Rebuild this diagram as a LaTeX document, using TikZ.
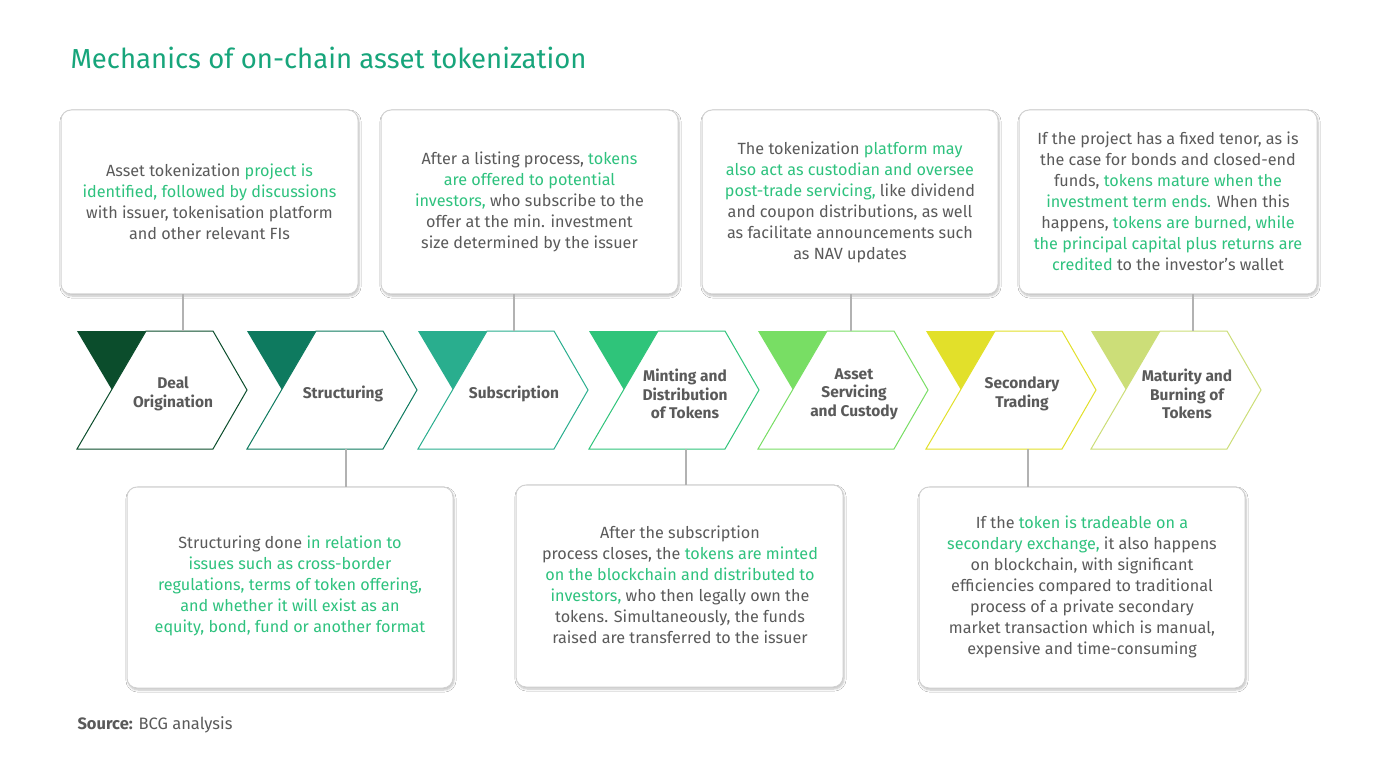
\documentclass[tikz,border=0pt]{standalone}
\usepackage{fontspec}
\setmainfont{Fira Sans}
\usetikzlibrary{shadows.blur}
\definecolor{txt}{HTML}{5A5A5A}
\definecolor{grn}{HTML}{2EC27E}
\definecolor{ttl}{HTML}{17A57B}
\definecolor{cA}{HTML}{0B4D2C}
\definecolor{cB}{HTML}{0E7A5F}
\definecolor{cC}{HTML}{29AE8E}
\definecolor{cD}{HTML}{2FC47A}
\definecolor{cE}{HTML}{78DE64}
\definecolor{cF}{HTML}{E2E02A}
\definecolor{cG}{HTML}{CCDE78}
\newcommand{\g}[1]{\textcolor{grn}{#1}}
\tikzset{
  infobox/.style={draw=black!18, line width=1pt, rounded corners=10pt, fill=white,
    blur shadow={shadow xshift=1pt, shadow yshift=-2pt, shadow blur steps=6, shadow opacity=25}},
  infotext/.style={align=center, text=txt, font=\fontsize{16.2}{21}\selectfont},
  steplabel/.style={align=center, text=txt, font=\bfseries\fontsize{15.5}{18.5}\selectfont},
  link/.style={draw=black!30, line width=1.2pt}
}
\begin{document}
\begin{tikzpicture}[x=1pt,y=-1pt]
\useasboundingbox (0,0) rectangle (1400,767);
\fill[white] (0,0) rectangle (1400,767);
\node[anchor=west, text=ttl, font=\fontsize{27.5}{32}\selectfont] (title) at (67,58) {Mechanics of on-chain asset tokenization};
% boxes
\draw[infobox] (61,110) rectangle (358,294); \coordinate (t1) at (183,294);
\draw[infobox] (381,110) rectangle (678,294); \coordinate (t2) at (514,294);
\draw[infobox] (702,110) rectangle (998,294); \coordinate (t3) at (851,294);
\draw[infobox] (1019,110) rectangle (1317,294); \coordinate (t4) at (1193,294);
\draw[infobox] (127,487) rectangle (453,688); \coordinate (b1) at (346,487);
\draw[infobox] (516,485) rectangle (843,687); \coordinate (b2) at (686,485);
\draw[infobox] (919,487) rectangle (1245,688); \coordinate (b3) at (1028,487);
\node[infotext] (x1) at (209.5,202) {Asset tokenization \g{project is}\\ \g{identified, followed by discussions}\\ with issuer, tokenisation platform\\ and other relevant FIs};
\node[infotext] (x2) at (529.5,202) {After a listing process, \g{tokens}\\ \g{are offered to potential}\\ \g{investors,} who subscribe to the\\ offer at the min. investment\\ size determined by the issuer};
\node[infotext] (x3) at (850,202) {The tokenization \g{platform may}\\ \g{also act as custodian and oversee}\\ \g{post-trade servicing,} like dividend\\ and coupon distributions, as well\\ as facilitate announcements such\\ as NAV updates};
\node[infotext] (x4) at (1168,201) {If the project has a fixed tenor, as is\\ the case for bonds and closed-end\\ funds, \g{tokens mature when the}\\ \g{investment term ends.} When this\\ happens, \g{tokens are burned, while}\\ \g{the principal capital plus returns are}\\ \g{credited} to the investor's wallet};
\node[infotext] (y1) at (290,586) {Structuring done \g{in relation to}\\ \g{issues such as cross-border}\\ \g{regulations, terms of token offering,}\\ \g{and whether it will exist as an}\\ \g{equity, bond, fund or another format}};
\node[infotext] (y2) at (680,585) {After the subscription\\ process closes, the \g{tokens are minted}\\ \g{on the blockchain and distributed to}\\ \g{investors,} who then legally own the\\ tokens. Simultaneously, the funds\\ raised are transferred to the issuer};
\node[infotext] (y3) at (1082,587) {If the \g{token is tradeable on a}\\ \g{secondary exchange,} it also happens\\ on blockchain, with significant\\ efficiencies compared to traditional\\ process of a private secondary\\ market transaction which is manual,\\ expensive and time-consuming};
% chevrons
\foreach \i/\xo/\c/\lab in {0/77/cA/{Deal\\Origination},1/247/cB/Structuring,2/418/cC/Subscription,3/589/cD/{Minting and\\Distribution\\of Tokens},4/758/cE/{Asset\\Servicing\\and Custody},5/926/cF/{Secondary\\Trading},6/1091/cG/{Maturity and\\Burning of\\Tokens}}{
  \fill[\c] (\xo,331) -- (\xo+70,331) -- (\xo+35,390) -- cycle;
  \fill[black, opacity=0.12] (\xo+70,331) -- (\xo+78,331) -- (\xo+39,397) -- (\xo+35,390) -- cycle;
  \draw[\c, fill=white, line width=1pt] (\xo+69,331) -- (\xo+136,331) -- (\xo+170,390) -- (\xo+136,449) -- (\xo,449) -- cycle;
  \node[steplabel] (s\i) at (\xo+96,394) {\lab};
}
\coordinate (c1) at (183,331); \coordinate (c2) at (514,331);
\coordinate (c3) at (851,331); \coordinate (c4) at (1193,331);
\coordinate (d1) at (346,449); \coordinate (d2) at (686,449); \coordinate (d3) at (1028,449);
\draw[link] (t1) -- (c1); \draw[link] (t2) -- (c2); \draw[link] (t3) -- (c3); \draw[link] (t4) -- (c4);
\draw[link] (d1) -- (b1); \draw[link] (d2) -- (b2); \draw[link] (d3) -- (b3);
\node[anchor=west, text=txt, font=\fontsize{16.5}{20}\selectfont] (src) at (74,725) {\textbf{Source:} BCG analysis};
\end{tikzpicture}
\end{document}
